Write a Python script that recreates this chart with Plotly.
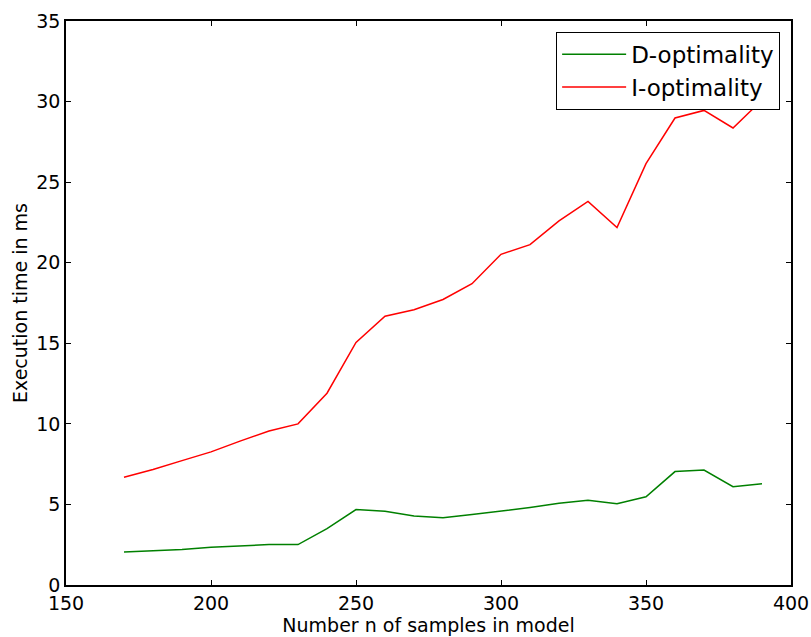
import plotly.graph_objects as go

n_samples = [170, 180, 190, 200, 210, 220, 230, 240, 250, 260, 270, 280, 290,
             300, 310, 320, 330, 340, 350, 360, 370, 380, 390]
d_opt = [2.05, 2.12, 2.2, 2.34, 2.43, 2.51, 2.51, 3.5, 4.68, 4.57, 4.28, 4.17,
         4.37, 4.58, 4.81, 5.07, 5.26, 5.05, 5.47, 7.04, 7.13, 6.1, 6.29]
i_opt = [6.69, 7.17, 7.72, 8.26, 8.93, 9.56, 10.0, 11.9, 15.05, 16.68, 17.08,
         17.72, 18.7, 20.52, 21.12, 22.6, 23.8, 22.18, 26.15, 28.98, 29.45,
         28.36, 30.1]

x_ticks = [150, 200, 250, 300, 350, 400]
y_ticks = [0, 5, 10, 15, 20, 25, 30, 35]

FONT = "DejaVu Sans"

fig = go.Figure()
fig.add_trace(go.Scatter(x=n_samples, y=d_opt, mode="lines", name="D-optimality",
                         line=dict(color="#008000", width=1.5)))
fig.add_trace(go.Scatter(x=n_samples, y=i_opt, mode="lines", name="I-optimality",
                         line=dict(color="#ff0000", width=1.5)))

axis_common = dict(showgrid=False, zeroline=False, showline=True, linecolor="black",
                   linewidth=1.5, mirror="ticks", ticks="inside", ticklen=5,
                   tickcolor="black", tickwidth=1, automargin=False,
                   tickfont=dict(family=FONT, size=19, color="black"))

fig.update_layout(
    width=811, height=637,
    margin=dict(l=66, r=20, t=21, b=52),
    paper_bgcolor="white", plot_bgcolor="white",
    font=dict(family=FONT, size=19, color="black"),
    xaxis=dict(range=[150, 400], tickvals=x_ticks,
               title=dict(text="Number n of samples in model",
                          font=dict(family=FONT, size=19), standoff=2),
               **axis_common),
    yaxis=dict(range=[0, 35], tickvals=y_ticks,
               title=dict(text="Execution time in ms",
                          font=dict(family=FONT, size=19), standoff=4),
               **axis_common),
    legend=dict(x=0.985, y=0.981, xanchor="right", yanchor="top",
                bordercolor="black", borderwidth=1, bgcolor="white",
                itemwidth=64,
                font=dict(family=FONT, size=23)),
)

fig.write_html("out.html")
